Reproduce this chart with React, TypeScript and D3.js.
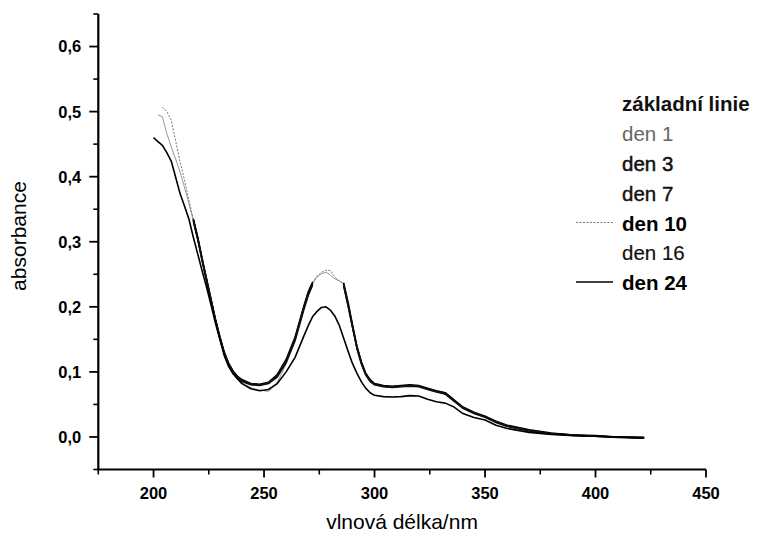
import React from "react";
import * as d3 from "d3";

// Wavelength grid (nm) shared by all spectra
const wavelengths = [
  200, 202, 204, 206, 208, 210, 212, 214, 216,
  218, 220, 222, 224, 226, 228, 230, 232, 234, 236, 238, 240,
  244, 248, 252, 256, 260, 264, 268,
  270, 272,
  274, 276, 278, 280, 282, 284,
  286, 288, 290, 292, 294, 296, 298, 300,
  304, 308, 312, 316, 320, 324, 328, 332,
  336, 340,
  345, 350, 355, 360,
  370, 380, 390, 400, 410, 422,
];

// Absorbance spectra (null = no reading)
const zakladniLinie = [
  null, null, null, null, null, null, null, null, null,
  0.333, 0.305, 0.272, 0.241, 0.21, 0.18, 0.153, 0.129, 0.112, 0.1, 0.092, 0.087,
  0.081, 0.08, 0.083, 0.094, 0.116, 0.15, 0.198,
  0.22, 0.236,
  null, null, null, null, null, null,
  0.234, 0.204, 0.17, 0.138, 0.114, 0.097, 0.087, 0.081,
  0.078, 0.077, 0.078, 0.079, 0.078, 0.074, 0.07, 0.067,
  0.056, 0.045,
  0.037, 0.031, 0.023, 0.017,
  0.01, 0.005, 0.003, 0.001, 0.0, -0.001,
];

const den1 = [
  null, 0.495, 0.492, 0.466, 0.446, 0.427, 0.407, 0.384, 0.359,
  0.332, 0.303, 0.27, 0.24, 0.209, 0.179, 0.152, 0.128, 0.11, 0.098, 0.089, 0.083,
  0.076, 0.072, 0.07, 0.084, 0.112, 0.148, 0.196,
  0.219, 0.236,
  0.246, 0.251, 0.253, 0.249, 0.243, 0.24,
  0.235, 0.204, 0.17, 0.138, 0.114, 0.097, 0.087, 0.081,
  0.078, 0.077, 0.078, 0.079, 0.078, 0.074, 0.07, 0.067,
  0.056, 0.045,
  0.037, 0.031, 0.023, 0.017,
  0.01, 0.005, 0.003, 0.001, 0.0, -0.001,
];

const den3 = [
  null, null, null, null, null, null, null, null, null,
  0.335, 0.307, 0.274, 0.243, 0.212, 0.181, 0.154, 0.13, 0.113, 0.101, 0.093, 0.088,
  0.082, 0.081, 0.084, 0.096, 0.119, 0.153, 0.201,
  0.223, 0.238,
  null, null, null, null, null, null,
  0.237, 0.207, 0.173, 0.14, 0.116, 0.098, 0.088, 0.082,
  0.079, 0.078, 0.079, 0.08, 0.079, 0.075, 0.071, 0.068,
  0.057, 0.046,
  0.038, 0.032, 0.024, 0.018,
  0.011, 0.006, 0.003, 0.002, 0.0, -0.001,
];

const den7 = [
  null, null, null, null, null, null, null, null, null,
  0.331, 0.303, 0.27, 0.239, 0.208, 0.178, 0.151, 0.127, 0.11, 0.098, 0.09, 0.085,
  0.08, 0.079, 0.082, 0.092, 0.114, 0.147, 0.195,
  0.217, 0.233,
  null, null, null, null, null, null,
  0.232, 0.201, 0.168, 0.136, 0.112, 0.095, 0.085, 0.08,
  0.077, 0.076, 0.077, 0.078, 0.077, 0.073, 0.069, 0.066,
  0.055, 0.044,
  0.036, 0.03, 0.022, 0.016,
  0.009, 0.005, 0.002, 0.001, -0.001, -0.002,
];

const den10 = [
  null, null, 0.507, 0.5, 0.487, 0.455, 0.423, 0.395, 0.364,
  0.335, 0.307, 0.273, 0.242, 0.211, 0.181, 0.154, 0.13, 0.113, 0.101, 0.093, 0.088,
  0.082, 0.08, 0.082, 0.093, 0.117, 0.152, 0.2,
  0.222, 0.238,
  0.247, 0.253, 0.256, 0.256, 0.246, 0.24,
  0.236, 0.205, 0.171, 0.139, 0.115, 0.098, 0.088, 0.082,
  0.079, 0.078, 0.079, 0.08, 0.079, 0.075, 0.071, 0.068,
  0.057, 0.046,
  0.038, 0.032, 0.024, 0.018,
  0.011, 0.006, 0.003, 0.002, 0.0, -0.001,
];

const den16 = [
  null, null, null, null, null, null, null, null, null,
  0.334, 0.306, 0.273, 0.242, 0.211, 0.181, 0.154, 0.13, 0.113, 0.101, 0.093, 0.088,
  0.082, 0.08, 0.083, 0.095, 0.117, 0.151, 0.199,
  0.221, 0.237,
  null, null, null, null, null, null,
  0.235, 0.205, 0.171, 0.139, 0.115, 0.097, 0.087, 0.081,
  0.078, 0.077, 0.078, 0.079, 0.078, 0.074, 0.07, 0.066,
  0.055, 0.045,
  0.037, 0.031, 0.023, 0.017,
  0.01, 0.005, 0.003, 0.001, 0.0, -0.002,
];

const den24 = [
  0.46, 0.454, 0.448, 0.437, 0.424, 0.399, 0.374, 0.355, 0.335,
  0.307, 0.281, 0.255, 0.23, 0.203, 0.175, 0.15, 0.125, 0.108, 0.097, 0.089, 0.082,
  0.074, 0.071, 0.073, 0.082, 0.1, 0.122, 0.155,
  0.171, 0.185,
  0.193, 0.199, 0.2, 0.195, 0.186, 0.172,
  0.152, 0.132, 0.113, 0.098, 0.085, 0.075, 0.068, 0.064,
  0.062, 0.0615, 0.062, 0.0635, 0.063, 0.058, 0.054, 0.052,
  0.046, 0.036,
  0.03, 0.026, 0.018, 0.013,
  0.007, 0.004, 0.002, 0.001, 0.0, -0.001,
];

const seriesLabels = ["základní linie", "den 1", "den 3", "den 7", "den 10", "den 16", "den 24"];

const xTicks = [200, 250, 300, 350, 400, 450];
const xMinorTicks = [175, 225, 275, 325, 375, 425];
const yTicks = [0, 0.1, 0.2, 0.3, 0.4, 0.5, 0.6];
const yMinorTicks = [-0.05, 0.05, 0.15, 0.25, 0.35, 0.45, 0.55, 0.65];

const xTitle = "vlnová délka/nm";
const yTitle = "absorbance";

type Style = {
  stroke: string;
  width: number;
  dash?: string;
  weight: number;
  textFill: string;
  textStroke?: number;
  legendLine: boolean;
};

const styles: Record<string, Style> = {
  "základní linie": { stroke: "#000", width: 1.6, weight: 700, textFill: "#111", legendLine: false },
  "den 1": { stroke: "#8a8a8a", width: 0.9, weight: 400, textFill: "#666", legendLine: false },
  "den 3": { stroke: "#000", width: 1.6, weight: 400, textFill: "#111", textStroke: 0.5, legendLine: false },
  "den 7": { stroke: "#111", width: 1.4, weight: 400, textFill: "#111", textStroke: 0.4, legendLine: false },
  "den 10": { stroke: "#777", width: 1, dash: "2 1.5", weight: 700, textFill: "#000", legendLine: true },
  "den 16": { stroke: "#111", width: 1.4, weight: 400, textFill: "#111", textStroke: 0.2, legendLine: false },
  "den 24": { stroke: "#000", width: 1.6, weight: 700, textFill: "#000", legendLine: true },
};

const seriesValues: Record<string, (number | null)[]> = {
  "základní linie": zakladniLinie,
  "den 1": den1,
  "den 3": den3,
  "den 7": den7,
  "den 10": den10,
  "den 16": den16,
  "den 24": den24,
};

// thin traces first so the heavier ones sit on top
const drawOrder = ["den 1", "den 10", "základní linie", "den 3", "den 7", "den 16", "den 24"];

const FONT = "'Liberation Sans', Arial, Helvetica, sans-serif";

export default function App() {
  const W = 769;
  const H = 540;
  const x = d3.scaleLinear().domain([175, 450]).range([98.3, 706]);
  const y = d3.scaleLinear().domain([-0.05, 0.65]).range([469.5, 14]);
  const fmt = (v: number) => d3.format(".1f")(v).replace(".", ",");

  const line = d3
    .line<[number, number | null]>()
    .defined((d) => d[1] !== null)
    .x((d) => x(d[0]))
    .y((d) => y(d[1] as number));

  const x0 = x.range()[0];
  const yBase = y.range()[0];

  const legendX = 622;
  const legendBaselines = [111, 141, 170.5, 200.5, 230.5, 260, 290];

  return (
    <svg
      width={W}
      height={H}
      viewBox={`0 0 ${W} ${H}`}
      style={{ position: "absolute", left: 0, top: 0, background: "#fff" }}
      fontFamily={FONT}
    >
      <rect width={W} height={H} fill="#fff" />

      {/* spectra */}
      {drawOrder.map((name) => {
        const vals = seriesValues[name];
        const st = styles[name];
        const pts = wavelengths.map((w, i) => [w, vals[i]] as [number, number | null]);
        return (
          <path
            key={name}
            d={line(pts) || ""}
            fill="none"
            stroke={st.stroke}
            strokeWidth={st.width}
            strokeDasharray={st.dash}
            strokeLinejoin="round"
          />
        );
      })}

      {/* y axis */}
      <line x1={x0} x2={x0} y1={y(0.65)} y2={yBase} stroke="#000" strokeWidth={2.2} />
      {yTicks.map((t) => (
        <g key={`yt${t}`}>
          <line x1={x0 - 9} x2={x0} y1={y(t)} y2={y(t)} stroke="#000" strokeWidth={1.8} />
          <text
            x={x0 - 17}
            y={y(t)}
            dy="0.36em"
            textAnchor="end"
            fontSize={16.5}
            fontWeight={700}
            fill="#000"
          >
            {fmt(t)}
          </text>
        </g>
      ))}
      {yMinorTicks.map((t) => (
        <line key={`ym${t}`} x1={x0 - 5} x2={x0} y1={y(t)} y2={y(t)} stroke="#000" strokeWidth={1.6} />
      ))}

      {/* x axis */}
      <line x1={x0 - 1} x2={x(450)} y1={yBase} y2={yBase} stroke="#000" strokeWidth={2.2} />
      {xTicks.map((t) => (
        <g key={`xt${t}`}>
          <line x1={x(t)} x2={x(t)} y1={yBase} y2={yBase + 8} stroke="#000" strokeWidth={1.8} />
          <text x={x(t)} y={yBase + 29.5} textAnchor="middle" fontSize={16.5} fontWeight={700} fill="#000">
            {t}
          </text>
        </g>
      ))}
      {xMinorTicks.map((t) => (
        <line key={`xm${t}`} x1={x(t)} x2={x(t)} y1={yBase} y2={yBase + 5} stroke="#000" strokeWidth={1.6} />
      ))}

      {/* axis titles */}
      <text x={402} y={529} textAnchor="middle" fontSize={21} fill="#000">
        {xTitle}
      </text>
      <text
        transform={`translate(26, 236) rotate(-90)`}
        textAnchor="middle"
        fontSize={21}
        fill="#000"
      >
        {yTitle}
      </text>

      {/* legend */}
      {seriesLabels.map((name, i) => {
        const st = styles[name];
        const by = legendBaselines[i];
        return (
          <g key={`lg${name}`}>
            {st.legendLine && (
              <line
                x1={576}
                x2={613}
                y1={by - 8}
                y2={by - 8}
                stroke={st.stroke}
                strokeWidth={st.width}
                strokeDasharray={st.dash}
              />
            )}
            <text
              x={legendX}
              y={by}
              fontSize={20.5}
              fontWeight={st.weight}
              fill={st.textFill}
              stroke={st.textStroke ? st.textFill : "none"}
              strokeWidth={st.textStroke || 0}
            >
              {name}
            </text>
          </g>
        );
      })}
    </svg>
  );
}
